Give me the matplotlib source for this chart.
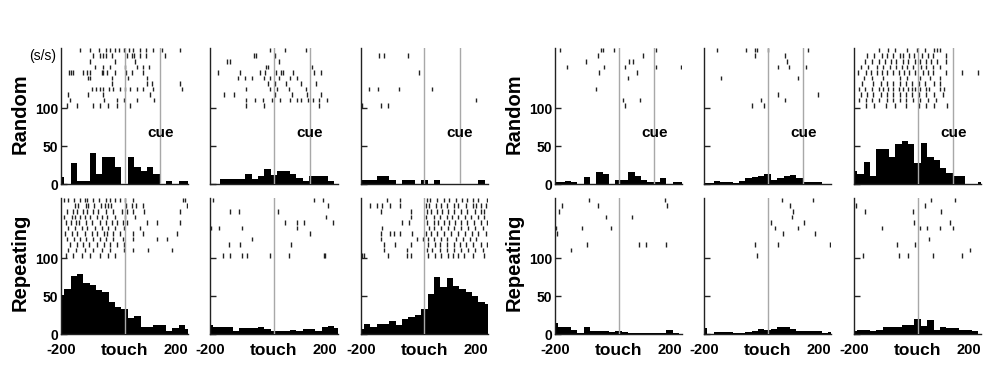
import matplotlib.pyplot as plt
import numpy as np

plt.rcParams['font.family'] = ['Liberation Sans', 'DejaVu Sans']

# bins of 20 ms centred on -200 .. 200 ms (aligned on touch)
bin_centers = np.arange(-200, 201, 20)
cue_time = 112

# firing rate (s/s), random sequence trials
rate_random = [
    [10, 0, 28, 5, 5, 41, 14, 36, 36, 23, 0, 36, 23, 18, 23, 14, 1, 5, 0, 5, 5],
    [0, 0, 7, 7, 7, 7, 13, 7, 11, 20, 12, 17, 17, 13, 8, 4, 11, 11, 11, 4, 1],
    [6, 6, 6, 11, 11, 6, 0, 6, 6, 0, 6, 0, 6, 0, 0, 0, 0, 0, 0, 6, 0],
    [3, 3, 5, 3, 0, 9, 0, 16, 14, 0, 6, 6, 16, 11, 6, 3, 3, 8, 0, 3, 3],
    [2, 2, 5, 3, 3, 2, 5, 8, 9, 11, 13, 6, 8, 11, 12, 8, 3, 3, 3, 1, 1],
    [17, 14, 29, 11, 47, 47, 36, 53, 57, 53, 28, 54, 36, 32, 21, 15, 11, 11, 0, 0, 3],
]

# firing rate (s/s), repeating sequence trials
rate_repeating = [
    [52, 60, 77, 79, 68, 65, 58, 56, 43, 36, 33, 21, 24, 10, 9, 12, 12, 4, 8, 12, 7],
    [12, 9, 9, 9, 5, 8, 8, 8, 9, 7, 4, 4, 4, 6, 4, 7, 7, 5, 10, 11, 8],
    [7, 13, 10, 13, 13, 17, 12, 20, 23, 26, 33, 53, 75, 62, 74, 63, 60, 56, 50, 42, 40],
    [15, 9, 10, 6, 2, 9, 5, 4, 4, 3, 4, 3, 2, 2, 2, 2, 2, 2, 6, 2, 1],
    [8, 1, 2.5, 2.5, 2.5, 2, 2, 3.5, 5, 7.5, 6, 6.5, 9, 9, 6.5, 4.5, 4.5, 4, 4, 2, 3],
    [4, 6, 6, 4, 6, 10, 9, 10, 12, 12, 20, 11, 19, 6, 10, 8, 8, 6, 6, 4, 1],
]

# spike times (ms) per trial, top trial first
raster_random = [
    [[-140, -109, -81, -59, -46, -30, -17, -1, 15, 27, 48, 66, 88, 118, 174],
     [-101, -77, -67, -59, -41, 6, 22, 29, 48, 66, 127],
     [-109, -30, 32],
     [-93, -67, -46, 1, 38, 59, 76],
     [-174, -169, -163, -130, -117, -109, -72, -67, -57, -30, 4, 22, 59],
     [-114, -109, -41, 12, 69],
     [-41, 69, 85, 174],
     [-104, -91, -77, -67, -49, -36, -15, 1, 17, 38, 59, 90, 179],
     [-177, -114, -67, 80],
     [-172, -65, -23, -1, 38, 92],
     [-182, -149, -98, -77, -51, -25, 17]],
    [[-11, 36, 102],
     [-64, -55, 2],
     [-148, -138, 15],
     [-24, -20, 121],
     [-177, -108, -45, -27, 5, 23, 29, 61, 126, 147],
     [-113, -92, -69, -32, -13, 15, 52, 73],
     [-19, 2, 39, 84, 131],
     [-87, -13, 10, 47, 100],
     [-156, -127, 2, 57, 105, 147],
     [-87, -59, -34, -6, 20, 50, 73, 86, 107, 124, 142, 166],
     [-87, -32, 142]],
    [[], [-141, -128, -51], [], [], [-17], [], [],
     [-174, -146, -80, 25], [], [163], [-197, -137, -114]],
    [[-184, -54, -49, -14, 118],
     [-66, 75],
     [-103, 33, 45],
     [-163, -47, 21, 118, 195],
     [-62, 59],
     [30], [],
     [-72], [],
     [14, 68],
     [21]],
    [[-160, -68, -39, -34, 0, 126],
     [-41, 55],
     [62],
     [31, 68, 119],
     [], [-148, 94], [], [],
     [31, 157],
     [-20, 55],
     [-50, -13]],
    [[-123, -92, -71, -34, -3, 24, 50, 60, 71],
     [-160, -137, -113, -97, -76, -55, -45, -26, -11, 13, 31, 48, 90],
     [-165, -144, -120, -102, -85, -68, -47, -29, -8, 6, 27, 42, 60, 90],
     [-179, -155, -127, -108, -87, -68, -50, -34, -15, 10, 27, 48, 71],
     [-186, -162, -148, -129, -113, -95, -78, -60, -42, -26, -8, 16, 31, 48, 90, 139, 190],
     [-169, -144, -108, -55, -34, 6, 39, 71],
     [-176, -139, -116, -97, -78, -57, -36, -18, 3, 24, 50, 71],
     [-183, -165, -144, -123, -108, -92, -76, -60, -45, -29, -18, -8, 8, 27, 37, 71, 84],
     [-179, -158, -139, -116, -95, -76, -57, -36, -18, 3, 27, 52, 81],
     [-183, -162, -144, -120, -97, -78, -57, -36, -15, 8, 31, 58],
     [-162, -137, -99, -71, -36, 3, 27, 50, 92]],
]

raster_repeating = [
    [[-191, -177, -159, -140, -125, -117, -98, -80, -59, -46, -30, -15, 1, 27, 184, 190],
     [-156, -146, -121, -114, -95, -75, -62, -51, -43, 4, 22, 36, 57, 195],
     [-182, -163, -149, -132, -117, -98, -83, -59, -36, -9, 6, 27, 62, 174],
     [-191, -166, -156, -140, -125, -109, -88, -72, -57, -30, 1, 32],
     [-184, -170, -153, -142, -121, -104, -77, -59, -41, -25, -6, 6, 69, 103, 174],
     [-177, -156, -135, -117, -93, -72, -51, -30, -2, 48],
     [-187, -166, -149, -125, -104, -88, -65, -57, -36, -15, 27, 59, 163],
     [-182, -159, -140, -121, -101, -77, -59, -38, -6, 25, 101, 132],
     [-172, -149, -132, -111, -88, -65, -46, -25, -2],
     [-177, -153, -125, -98, -72, -46, -2, 27, 74, 148],
     [-184, -163, -135, -109, -77, -51, -30]],
    [[-193, 126, 153],
     [171],
     [-138, -109, 12],
     [163],
     [34, 73, 94, 187],
     [-198, -174, -101, 71],
     [112],
     [-69],
     [-141, -108, 54],
     [],
     [-159, -138, -101, -85, -13, 47, 156, 159]],
    [[-117, -77, 9, 18, 41, 62, 78, 99, 117, 134, 152, 168, 198],
     [-170, -149, -133, -107, -77, 4, 15, 36, 52, 71, 92, 107, 131, 152, 163, 179, 193],
     [-135, -41, 7, 20, 41, 57, 75, 94, 115, 134, 158, 177, 187],
     [-43, 4, 29, 50, 71, 86, 107, 128, 147, 168, 189],
     [-70, -49, 9, 31, 43, 62, 78, 96, 115, 134, 155, 177, 198],
     [-133, 15, 31, 52, 73, 94, 115, 136, 158, 184],
     [-135, -107, -96, -77, -38, 4, 22, 41, 62, 84, 105, 128, 149, 168, 195],
     [-137, -24, -3, 12, 31, 52, 71, 99, 121, 142, 163],
     [-126, -91, -41, 12, 34, 50, 71, 94, 113, 131, 152, 177, 198],
     [-126, -56, 9, 25, 50, 71, 92, 115, 136, 158, 184],
     [-196, -189, -114, -54, -43, 12, 34, 52, 73, 89, 105, 126, 152, 189]],
    [[-92, 145],
     [-177, -66, 153],
     [-187],
     [-40, 43],
     [],
     [-197, -116, -23],
     [-193],
     [],
     [-101, 64, 87, 148],
     [-151],
     []],
    [[45, 142],
     [71],
     [81],
     [76],
     [10, 113],
     [22, 95],
     [48, 148],
     [],
     [-39, 34, 197],
     [],
     [-34]],
    [[42, 118],
     [-194, 24],
     [-164, -15, 73],
     [],
     [-11, 102],
     [-113, 6, 29, 71, 110],
     [],
     [37],
     [-66, -8],
     [165],
     [-173, -60, -31, 48, 139]],
]

# row positions of the trials in rate units
n_trials = 11
trial_y = 176.5 - 7.3 * np.arange(n_trials)

fig = plt.figure(figsize=(9.98, 3.67), dpi=100, facecolor='white')

W, H = 998.0, 367.0
panel_left = [61, 210.3, 360.7, 555, 704, 854]
panel_w = 127.3
row_bottom = {'random': 184.3, 'repeating': 334.3}
ymax = 180
panel_h = ymax * 0.76

def draw_panel(ax, rates, trials, show_cue, show_ylabels, show_x):
    ax.bar(bin_centers, rates, width=20, color='black', linewidth=0, zorder=2)
    for y, times in zip(trial_y, trials):
        if times:
            ax.vlines(times, y - 3, y + 3, color='#222222', linewidth=1.0, zorder=2)
    ax.axvline(0, color='#a8a8a8', linewidth=1.0, zorder=3)
    if show_cue:
        ax.axvline(cue_time, color='#a8a8a8', linewidth=1.0, zorder=3)
        ax.text(cue_time, 67, 'cue', ha='center', va='center', fontsize=11,
                fontweight='bold')
    ax.set_xlim(-200, 200)
    ax.set_ylim(0, ymax)
    ax.spines['top'].set_visible(False)
    ax.spines['right'].set_visible(False)
    for s in ('left', 'bottom'):
        ax.spines[s].set_color('#222222')
        ax.spines[s].set_linewidth(1.0)
    ax.set_yticks([0, 50, 100])
    ax.tick_params(axis='y', direction='in', length=4, width=1, color='#222222', pad=2)
    if show_ylabels:
        ax.set_yticklabels(['0', '50', '100'], fontsize=10, fontweight='bold')
    else:
        ax.set_yticklabels([])
    ax.set_xticks([-200, 0, 200])
    ax.tick_params(axis='x', length=0, pad=6)
    if show_x:
        labels = ax.set_xticklabels(['-200', 'touch', '200'], fontsize=10.5,
                                    fontweight='bold')
        labels[1].set_fontsize(12.5)
        labels[2].set_horizontalalignment('right')
        labels[2].set_x(200)
    else:
        ax.set_xticklabels([])

for i in range(6):
    for cond in ('random', 'repeating'):
        b = (H - row_bottom[cond]) / H
        ax = fig.add_axes([panel_left[i] / W, b, panel_w / W, panel_h / H])
        if cond == 'random':
            draw_panel(ax, rate_random[i], raster_random[i], True, i % 3 == 0, False)
        else:
            draw_panel(ax, rate_repeating[i], raster_repeating[i], False, i % 3 == 0, True)
        if i == 0 and cond == 'random':
            ax.text(-0.04, 169, '(s/s)', transform=ax.get_yaxis_transform(),
                    ha='right', va='center', fontsize=10)

for x in (20, 514):
    fig.text(x / W, 1 - 114 / H, 'Random', rotation=90, ha='center', va='center',
             fontsize=14.5, fontweight='bold')
    fig.text(x / W, 1 - 262 / H, 'Repeating', rotation=90, ha='center', va='center',
             fontsize=14.5, fontweight='bold')

fig.savefig('out.png', dpi=100)
